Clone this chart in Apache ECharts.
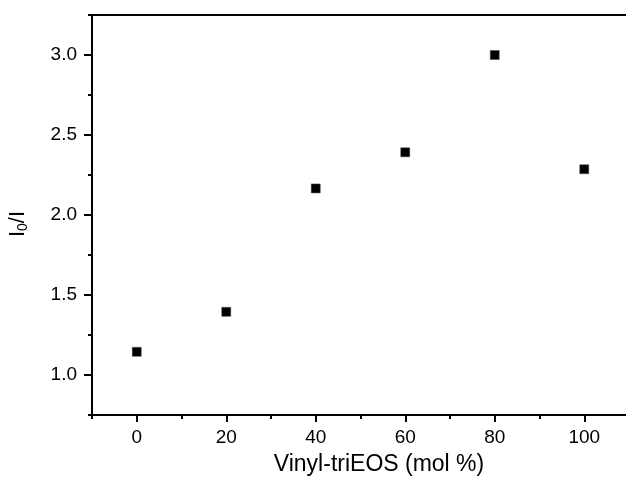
<!DOCTYPE html>
<html><head><meta charset="utf-8">
<script src="https://cdn.jsdelivr.net/npm/echarts@6/dist/echarts.min.js"></script>
<style>html,body{margin:0;padding:0;background:#fff}#c{width:626px;height:480px}</style>
</head><body><div id="c"></div>
<script>
var xValues = [0, 20, 40, 60, 80, 100];
var yValues = [1.145, 1.395, 2.166, 2.392, 3.0, 2.286];
var xMajorTicks = [0, 20, 40, 60, 80, 100];
var xMinorTicks = [-10, 10, 30, 50, 70, 90, 110];
var yMajorTicks = [1.0, 1.5, 2.0, 2.5, 3.0];
var yMinorTicks = [0.75, 1.25, 1.75, 2.25, 2.75, 3.25];
var xTitle = 'Vinyl-triEOS (mol %)';

var FONT = '"Liberation Sans", Arial, sans-serif';
var chart = echarts.init(document.getElementById('c'));
var pts = xValues.map(function (x, i) { return [x, yValues[i]]; });
chart.setOption({
  animation: false,
  grid: { left: 92, top: 15, width: 537, height: 400, outerBoundsMode: 'none', containLabel: false,
    show: true, borderColor: '#000', borderWidth: 2, backgroundColor: 'transparent' },
  xAxis: [{
    type: 'value', min: -10, max: 110, position: 'bottom',
    axisLine: { show: true, onZero: false, lineStyle: { color: '#000', width: 2 } },
    axisTick: { show: true, inside: false, length: 7, lineStyle: { color: '#000', width: 2 }, customValues: xMajorTicks },
    axisLabel: { show: true, customValues: xMajorTicks, color: '#000', fontSize: 19, fontFamily: FONT, margin: 13 },
    splitLine: { show: false }
  }, {
    type: 'value', min: -10, max: 110, position: 'bottom', gridIndex: 0,
    axisLine: { show: false, onZero: false },
    axisTick: { show: true, length: 4, lineStyle: { color: '#000', width: 2 }, customValues: xMinorTicks },
    axisLabel: { show: false },
    splitLine: { show: false }
  }],
  yAxis: [{
    type: 'value', min: 0.75, max: 3.25, position: 'left',
    axisLine: { show: true, onZero: false, lineStyle: { color: '#000', width: 2 } },
    axisTick: { show: true, length: 8, lineStyle: { color: '#000', width: 2 }, customValues: yMajorTicks },
    axisLabel: { show: true, customValues: yMajorTicks, color: '#000', fontSize: 19, fontFamily: FONT, margin: 15,
      formatter: function (v) { return v.toFixed(1); } },
    splitLine: { show: false }
  }, {
    type: 'value', min: 0.75, max: 3.25, position: 'left',
    axisLine: { show: false, onZero: false },
    axisTick: { show: true, length: 4, lineStyle: { color: '#000', width: 2 }, customValues: yMinorTicks },
    axisLabel: { show: false },
    splitLine: { show: false }
  }],
  graphic: [{
    type: 'text', x: 379, y: 465,
    style: { text: xTitle, font: '23px ' + FONT, fill: '#000', align: 'center', verticalAlign: 'middle' }
  }, {
    type: 'text', x: 18, y: 224, rotation: Math.PI / 2,
    style: {
      text: '{a|I}{b|0}{a|/I}', align: 'center', verticalAlign: 'middle', fill: '#000',
      rich: {
        a: { fontSize: 22, fontFamily: FONT, fill: '#000', lineHeight: 26 },
        b: { fontSize: 14, fontFamily: FONT, fill: '#000', lineHeight: 26, padding: [10, 0, 0, 0] }
      }
    }
  }],
  series: [{
    type: 'scatter', data: pts, symbol: 'rect', symbolSize: 9,
    itemStyle: { color: '#000', opacity: 1, borderColor: '#444', borderWidth: 0.5 }
  }]
});
</script></body></html>
